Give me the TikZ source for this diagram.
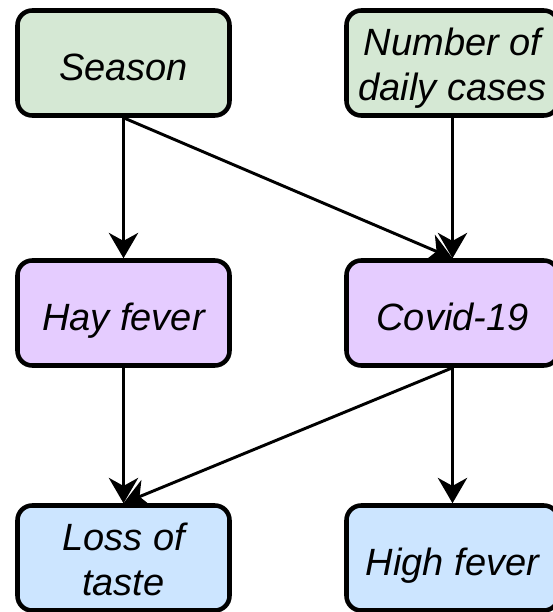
\documentclass[tikz,border=0pt]{standalone}
\usepackage{fontspec}
\setmainfont{Liberation Sans}
\usetikzlibrary{arrows.meta}
\definecolor{cgreen}{HTML}{D5E8D4}
\definecolor{cpurple}{HTML}{E5CCFF}
\definecolor{cblue}{HTML}{CCE5FF}
\newcommand\myOneStrut{\rule[-0.25em]{0pt}{1.42em}}
\newcommand\myTopStrut{\rule{0pt}{1.03em}}
\newcommand\myBotStrut{\rule[-0.25em]{0pt}{0.25em}}
\tikzset{
  box/.style={draw=black, line width=3.4pt, rounded corners=11pt, rectangle,
    minimum width=159pt, minimum height=78.75pt, align=center, inner sep=0pt,
    font=\fontsize{28.5}{34.1}\selectfont\itshape},
  conn/.style={line width=2.2pt, -{Stealth[length=19pt, width=22pt, inset=6pt]}}
}
\begin{document}
\begin{tikzpicture}[x=0.75pt, y=-0.75pt]
\useasboundingbox (0,0) rectangle (553,612);
\clip (0,0) rectangle (553,612);
\node[box, fill=cgreen] (season) at (123.5,63) {\myOneStrut Season};
\node[box, fill=cgreen] (cases) at (452.5,63) {\myTopStrut Number of\\\myBotStrut daily cases};
\node[box, fill=cpurple] (hay) at (123.5,313) {\myOneStrut Hay fever};
\node[box, fill=cpurple] (covid) at (452.5,313) {\myOneStrut Covid-19};
\node[box, fill=cblue] (loss) at (123.5,558) {\myTopStrut Loss of\\\myBotStrut taste};
\node[box, fill=cblue] (high) at (452.5,558) {\myOneStrut High fever};
\draw[conn] (season.south) -- (hay.north);
\draw[conn] (season.south) -- (covid.north);
\draw[conn] (cases.south) -- (covid.north);
\draw[conn] (hay.south) -- (loss.north);
\draw[conn] (covid.south) -- (loss.north);
\draw[conn] (covid.south) -- (high.north);
\end{tikzpicture}
\end{document}
